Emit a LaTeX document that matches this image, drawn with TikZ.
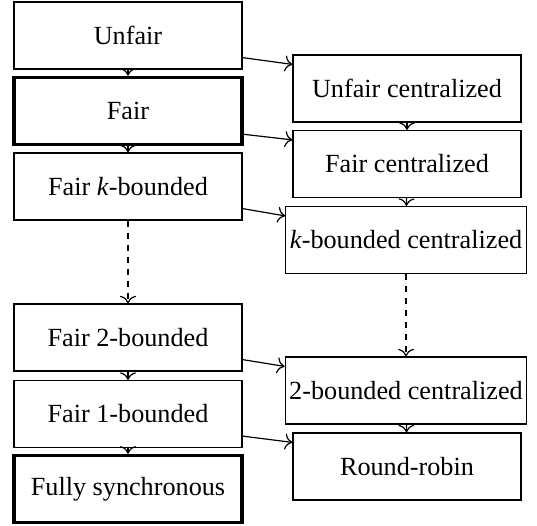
\documentclass[tikz,border=0pt]{standalone}
\usepackage{fontspec}
\setmainfont{Liberation Serif}
\usetikzlibrary{arrows.meta}
\tikzset{
  model/.style={draw, line width=0.6pt, minimum width=114pt, minimum height=33.5pt, inner xsep=2pt,
    font=\fontsize{13.1}{15}\selectfont},
  strong/.style={model, line width=1.8pt},
  link/.style={-{To[scale=1.3]}, line width=0.6pt},
}
\begin{document}
\begin{tikzpicture}[x=0.5pt,y=-0.5pt]
\useasboundingbox (0,0) rectangle (537,526);
% Distributed models
\node[model] (unfair) at (128,35.5) {Unfair};
\node[strong] (fair) at (128,111) {Fair};
\node[model] (fairk) at (128,186.5) {Fair \textit{k}-bounded};
\node[model] (fairtwo) at (128,337.5) {Fair 2-bounded};
\node[model] (fairone) at (128,414) {Fair 1-bounded};
\node[strong] (sync) at (128,489) {Fully synchronous};
% Centralized models
\node[model] (unfairc) at (407,88.5) {Unfair centralized};
\node[model] (fairc) at (407,164) {Fair centralized};
\node[model] (kc) at (406,240) {\textit{k}-bounded centralized};
\node[model] (twoc) at (406,390.5) {2-bounded centralized};
\node[model] (rr) at (407,466.5) {Round-robin};
% Inclusions down the columns
\draw[link] (unfair) -- (fair);
\draw[link] (fair) -- (fairk);
\draw[link,dashed] (fairk) -- (fairtwo);
\draw[link] (fairtwo) -- (fairone);
\draw[link] (fairone) -- (sync);
\draw[link] (unfairc) -- (fairc);
\draw[link] (fairc) -- (kc);
\draw[link,dashed] (kc) -- (twoc);
\draw[link] (twoc) -- (rr);
% Inclusions across
\draw[link] ([yshift=6pt]unfair.south east) -- ([yshift=-5pt]unfairc.north west);
\draw[link] ([yshift=6pt]fair.south east) -- ([yshift=-5pt]fairc.north west);
\draw[link] ([yshift=6pt]fairk.south east) -- ([yshift=-5pt]kc.north west);
\draw[link] ([yshift=6pt]fairtwo.south east) -- ([yshift=-5pt]twoc.north west);
\draw[link] ([yshift=6pt]fairone.south east) -- ([yshift=-5pt]rr.north west);
\end{tikzpicture}
\end{document}
